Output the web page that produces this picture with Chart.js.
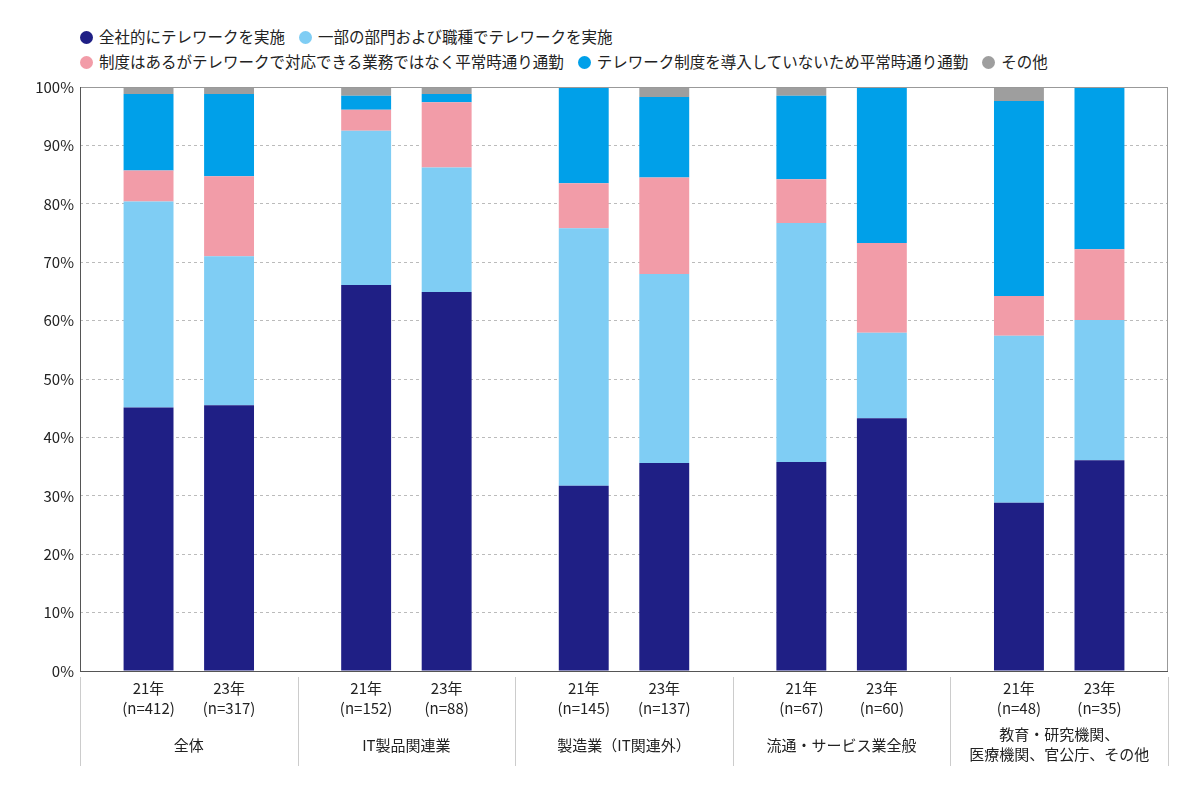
<!DOCTYPE html>
<html lang="ja">
<head>
<meta charset="UTF-8">
<title>テレワーク実施状況</title>
<script src="https://cdn.jsdelivr.net/npm/chart.js"></script>
<style>
  body { margin: 0; background: #fff; font-family: "Noto Sans CJK JP", sans-serif; }
  #legend { height: 72px; box-sizing: border-box; padding: 25px 0 0 80px; font-size: 15.5px; color: #222; }
  #legend .row { height: 25px; white-space: nowrap; }
  #legend span.item { margin-right: 14px; }
  #legend i { display: inline-block; width: 13px; height: 13px; border-radius: 50%; margin-right: 6px; vertical-align: -1px; }
  .wrap { width: 1200px; height: 694px; }
</style>
</head>
<body>
<div id="legend"></div>
<div class="wrap"><canvas id="c"></canvas></div>
<script>
  const groups = ["全体", "IT製品関連業", "製造業（IT関連外）", "流通・サービス業全般", ["教育・研究機関、", "医療機関、官公庁、その他"]];
  const nLabels21 = ["(n=412)", "(n=152)", "(n=145)", "(n=67)", "(n=48)"];
  const nLabels23 = ["(n=317)", "(n=88)", "(n=137)", "(n=60)", "(n=35)"];
  const seriesNames = ["全社的にテレワークを実施", "一部の部門および職種でテレワークを実施",
    "制度はあるがテレワークで対応できる業務ではなく平常時通り通勤", "テレワーク制度を導入していないため平常時通り通勤", "その他"];
  const colors = ["#1f1f85", "#7fcdf4", "#f29ca8", "#00a0e9", "#9e9e9e"];
  // 21年
  const v21 = [
    [45.1, 66.1, 31.7, 35.8, 28.8],
    [35.3, 26.4, 44.1, 40.9, 28.6],
    [5.3, 3.6, 7.7, 7.5, 6.8],
    [13.1, 2.4, 16.5, 14.3, 33.4],
    [1.2, 1.5, 0, 1.5, 2.4]
  ];
  // 23年
  const v23 = [
    [45.5, 64.9, 35.6, 43.3, 36.1],
    [25.5, 21.3, 32.4, 14.6, 24.0],
    [13.7, 11.2, 16.5, 15.4, 12.1],
    [14.1, 1.4, 13.8, 26.7, 27.8],
    [1.2, 1.2, 1.7, 0, 0]
  ];

  const legendRows = [[0, 1], [2, 3, 4]];
  document.getElementById("legend").innerHTML = legendRows.map(r =>
    '<div class="row">' + r.map(i => '<span class="item"><i style="background:' + colors[i] + '"></i>' + seriesNames[i] + '</span>').join("") + '</div>'
  ).join("");

  const datasets = [];
  seriesNames.forEach((name, i) => {
    datasets.push({ label: name, data: v21[i], backgroundColor: colors[i], stack: "21" });
    datasets.push({ label: name, data: v23[i], backgroundColor: colors[i], stack: "23" });
  });

  const font = '15px "Noto Sans CJK JP", sans-serif';
  const labelsPlugin = {
    id: "labels",
    afterDraw(chart) {
      const ctx = chart.ctx, a = chart.chartArea, x = chart.scales.x;
      ctx.save();
      ctx.strokeStyle = "#999"; ctx.lineWidth = 1;
      ctx.beginPath();
      ctx.moveTo(a.left, a.top + 0.5); ctx.lineTo(a.right, a.top + 0.5);
      ctx.moveTo(a.right - 0.5, a.top); ctx.lineTo(a.right - 0.5, a.bottom);
      ctx.stroke();
      ctx.strokeStyle = "#555";
      ctx.beginPath();
      ctx.moveTo(a.left, a.bottom + 0.5); ctx.lineTo(a.right, a.bottom + 0.5);
      ctx.moveTo(a.left + 0.5, a.top); ctx.lineTo(a.left + 0.5, a.bottom);
      ctx.stroke();
      ctx.strokeStyle = "#ccc";
      const step = (a.right - a.left) / groups.length;
      ctx.beginPath();
      for (let g = 0; g <= groups.length; g++) {
        const sx = Math.round(a.left + g * step) + 0.5;
        ctx.moveTo(sx, a.bottom + 6); ctx.lineTo(sx, a.bottom + 95);
      }
      ctx.stroke();
      ctx.fillStyle = "#222"; ctx.font = font; ctx.textAlign = "center"; ctx.textBaseline = "middle";
      const m21 = chart.getDatasetMeta(0), m23 = chart.getDatasetMeta(1);
      groups.forEach((g, i) => {
        const b1 = m21.data[i].x, b2 = m23.data[i].x;
        ctx.fillText("21年", b1, a.bottom + 17); ctx.fillText(nLabels21[i], b1, a.bottom + 37);
        ctx.fillText("23年", b2, a.bottom + 17); ctx.fillText(nLabels23[i], b2, a.bottom + 37);
        const cx = x.getPixelForValue(i);
        if (Array.isArray(g)) {
          ctx.fillText(g[0], cx, a.bottom + 63); ctx.fillText(g[1], cx, a.bottom + 83);
        } else ctx.fillText(g, cx, a.bottom + 74);
      });
      ctx.restore();
    }
  };

  new Chart(document.getElementById("c"), {
    type: "bar",
    data: { labels: groups.map((g, i) => "g" + i), datasets },
    options: {
      responsive: true, maintainAspectRatio: false, animation: false,
      layout: { padding: { top: 3, right: 32, bottom: 0, left: 0 } },
      datasets: { bar: { categoryPercentage: 0.74, barPercentage: 0.62 } },
      plugins: { legend: { display: false }, tooltip: { enabled: false } },
      scales: {
        x: { stacked: true, grid: { display: false }, border: { display: false },
             ticks: { display: false }, afterFit: s => { s.height = 95; } },
        y: { stacked: true, min: 0, max: 100,
             ticks: { stepSize: 10, callback: v => v + "%", color: "#222", font: { size: 15, family: "Noto Sans CJK JP" }, padding: 6 },
             grid: { color: "#bbb", tickLength: 0, lineWidth: 1 }, border: { display: false, dash: [3, 3] },
             afterFit: s => { s.width = 80; } }
      }
    },
    plugins: [labelsPlugin]
  });
</script>
</body>
</html>
